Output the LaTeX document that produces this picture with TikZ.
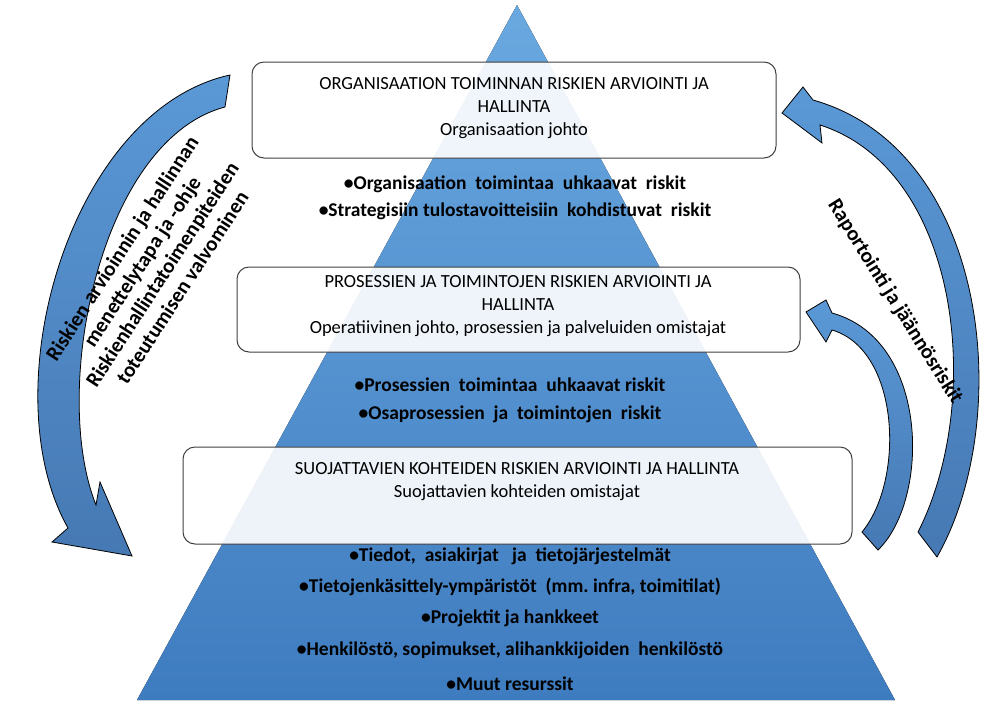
\documentclass[tikz,border=0pt]{standalone}
\usepackage{fontspec}
\setmainfont{Carlito}
\begin{document}
\begin{tikzpicture}[x=1pt,y=-1pt,
  box/.style={draw=black!75,line width=1pt,rounded corners=12pt,fill=white,fill opacity=0.9},
  btxt/.style={font=\fontsize{18.5}{23}\selectfont,align=center},
  bul/.style={font=\bfseries\fontsize{19.5}{23}\selectfont},
  arr/.style={draw=black,line width=0.8pt,top color=arrtop,bottom color=arrbot}]
\definecolor{pyrtop}{HTML}{6AA8E0}
\definecolor{pyrbot}{HTML}{3E7CC0}
\definecolor{arrtop}{HTML}{5A98D6}
\definecolor{arrbot}{HTML}{4679B4}
\useasboundingbox (0,0) rectangle (1004,713);
\fill[top color=pyrtop,bottom color=pyrbot] (517,5) -- (895,700) -- (137,700) -- cycle;
% left arrow
\path[arr] (230,75) .. controls (70,110) and (-10,390) .. (68,528) -- (52,542) -- (132,556) -- (100,482) -- (96,505)
  .. controls (50,390) and (100,140) .. (225,107) -- cycle;
% big right arrow
\path[arr] (918,532) .. controls (985,400) and (960,170) .. (820,125) -- (822,143) -- (782,113) -- (803,87) -- (813,100)
  .. controls (990,150) and (1015,420) .. (937,557) -- cycle;
% small right arrow
\path[arr] (862,532) .. controls (905,480) and (900,350) .. (832,330) -- (826,342) -- (806,312) -- (826,300) -- (832,313)
  .. controls (930,340) and (930,500) .. (878,550) -- cycle;
% boxes
\draw[box] (252,62) rectangle (776,158);
\draw[box] (237,267) rectangle (800,352);
\draw[box] (183,447) rectangle (852,544);
\node[btxt] (b1) at (514,108) {ORGANISAATION TOIMINNAN RISKIEN ARVIOINTI JA\\HALLINTA\\Organisaation johto};
\node[btxt] (b2) at (518,306) {PROSESSIEN JA TOIMINTOJEN RISKIEN ARVIOINTI JA\\HALLINTA\\Operatiivinen johto, prosessien ja palveluiden omistajat};
\node[btxt] (b3) at (517,482) {SUOJATTAVIEN KOHTEIDEN RISKIEN ARVIOINTI JA HALLINTA\\Suojattavien kohteiden omistajat};
% bullets
\node[bul] (t1) at (515,184) {•Organisaation\ \ toimintaa\ \ uhkaavat\ \ riskit};
\node[bul] (t2) at (515,211) {•Strategisiin\ tulostavoitteisiin\ \ kohdistuvat\ \ riskit};
\node[bul] (t3) at (510,385) {•Prosessien\ \ toimintaa\ \ uhkaavat\ riskit};
\node[bul] (t4) at (510,414) {•Osaprosessien\ \ ja\ \ toimintojen\ \ riskit};
\node[bul] (t5) at (510,556) {•Tiedot,\ \ asiakirjat\ \ \ ja\ \ tietojärjestelmät};
\node[bul] (t6) at (510,587) {•Tietojenkäsittely-ympäristöt\ \ (mm.\ infra,\ toimitilat)};
\node[bul] (t7) at (510,618) {•Projektit\ ja\ hankkeet};
\node[bul] (t8) at (510,650) {•Henkilöstö,\ sopimukset,\ alihankkijoiden\ \ henkilöstö};
\node[bul] (t9) at (510,684) {•Muut\ resurssit};
% arrow labels
\node[font=\bfseries\fontsize{21}{24}\selectfont,align=center,rotate=57] (l1) at (152,268)
  {Riskien arvioinnin ja hallinnan\\menettelytapa ja -ohje\\Riskienhallintatoimenpiteiden\\toteutumisen valvominen};
\node[font=\bfseries\fontsize{21}{24}\selectfont,rotate=-58] (l2) at (895,302) {Raportointi ja jäännösriskit};
\end{tikzpicture}
\end{document}
